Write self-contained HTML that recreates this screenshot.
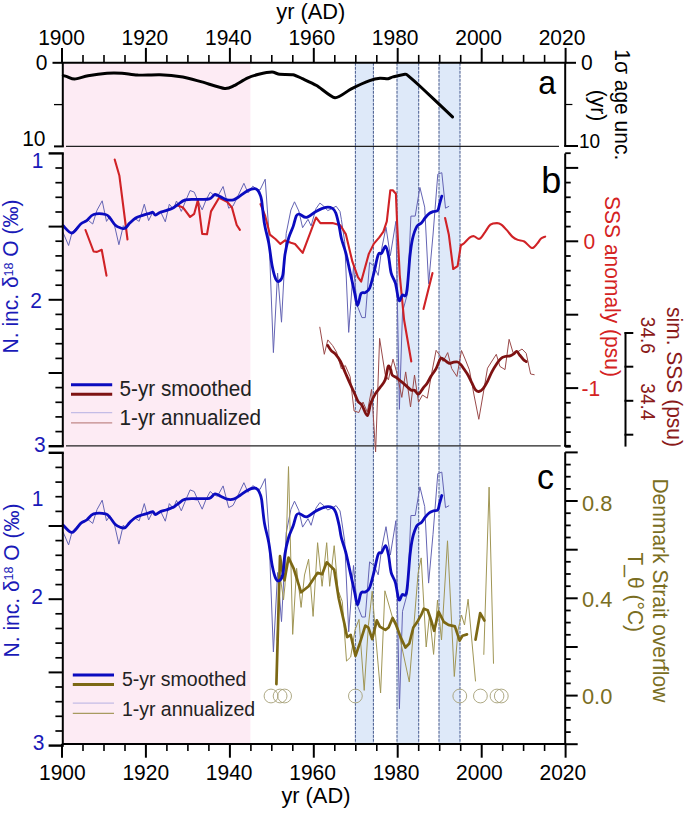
<!DOCTYPE html>
<html><head><meta charset="utf-8"><style>
html,body{margin:0;padding:0;background:#fff;width:685px;height:814px;overflow:hidden;}
text{font-family:"Liberation Sans", sans-serif;}
</style></head><body>
<svg width="685" height="814" viewBox="0 0 685 814" style="display:block">
<rect width="685" height="814" fill="#fff"/>
<rect x="63.8" y="62.8" width="186.6" height="681.2" fill="#fdebf4"/>
<rect x="355.4" y="62.8" width="18.0" height="681.2" fill="#dee9f9"/>
<line x1="355.4" y1="62.8" x2="355.4" y2="744.0" stroke="#4a5e92" stroke-width="1.05" stroke-dasharray="3,1"/>
<line x1="373.4" y1="62.8" x2="373.4" y2="744.0" stroke="#4a5e92" stroke-width="1.05" stroke-dasharray="3,1"/>
<rect x="397.0" y="62.8" width="21.7" height="681.2" fill="#dee9f9"/>
<line x1="397.0" y1="62.8" x2="397.0" y2="744.0" stroke="#4a5e92" stroke-width="1.05" stroke-dasharray="3,1"/>
<line x1="418.7" y1="62.8" x2="418.7" y2="744.0" stroke="#4a5e92" stroke-width="1.05" stroke-dasharray="3,1"/>
<rect x="439.0" y="62.8" width="21.0" height="681.2" fill="#dee9f9"/>
<line x1="439.0" y1="62.8" x2="439.0" y2="744.0" stroke="#4a5e92" stroke-width="1.05" stroke-dasharray="3,1"/>
<line x1="460.0" y1="62.8" x2="460.0" y2="744.0" stroke="#4a5e92" stroke-width="1.05" stroke-dasharray="3,1"/>
<line x1="66" y1="146.4" x2="559" y2="146.4" stroke="#222" stroke-width="1.2"/>
<line x1="66" y1="445.8" x2="560.7" y2="445.8" stroke="#222" stroke-width="1.2"/>
<path d="M63.3,75.6 C63.7,75.7 65.7,76.2 67.0,76.6 C68.3,77.0 72.2,79.2 74.7,79.1 C77.2,79.0 84.2,76.5 88.0,75.8 C91.8,75.1 103.0,73.5 107.0,73.2 C111.0,72.9 118.5,73.0 122.0,73.2 C125.5,73.4 132.9,74.9 137.3,75.1 C141.7,75.3 154.7,74.5 160.0,74.7 C165.3,74.9 177.9,76.2 182.8,77.0 C187.7,77.8 196.9,80.6 201.8,81.9 C206.7,83.2 220.8,88.0 224.6,88.4 C228.4,88.8 231.4,86.9 234.0,85.7 C236.6,84.5 244.4,79.4 247.3,78.1 C250.2,76.8 255.8,75.0 258.7,74.3 C261.6,73.6 269.6,72.1 272.0,72.1 C274.4,72.1 277.2,74.0 279.6,74.3 C282.0,74.6 290.3,74.2 292.9,74.7 C295.5,75.2 299.5,77.3 302.3,78.6 C305.1,79.9 312.8,83.3 316.6,85.5 C320.4,87.7 331.0,97.4 335.0,97.8 C339.0,98.2 347.3,90.8 351.3,88.8 C355.3,86.8 366.4,81.8 369.7,80.6 C373.0,79.4 377.9,78.4 380.0,78.2 C382.1,78.0 386.5,79.0 388.0,78.8 C389.5,78.6 391.0,77.4 393.0,76.9 C395.0,76.4 403.2,74.3 405.0,74.2 C406.8,74.1 406.2,74.2 408.0,75.7 C409.8,77.2 415.6,82.2 420.8,87.0 C426.0,91.8 448.8,113.4 452.5,116.9" fill="none" stroke="#000" stroke-width="3.0" stroke-linejoin="round" stroke-linecap="round"/>
<polyline points="63.1,232.6 68.6,245.5 72.0,232.6 76.0,228.0 81.5,223.1 87.5,219.7 92.7,224.0 97.0,210.2 102.2,200.8 106.5,221.4 109.9,216.3 114.2,224.0 118.9,244.7 123.3,225.7 126.0,228.5 130.0,224.0 134.0,218.0 139.2,221.4 144.3,204.2 148.6,220.6 152.9,212.0 156.0,215.0 160.4,211.4 165.3,221.8 169.3,204.2 173.3,209.0 176.5,201.0 181.3,211.4 186.0,200.0 190.1,190.5 194.2,192.1 198.0,201.0 202.2,209.8 206.0,200.0 210.2,192.1 213.5,195.0 217.4,196.9 223.1,186.5 228.7,208.2 233.0,206.0 237.0,198.0 243.9,183.3 248.0,192.9 252.8,186.2 256.5,189.0 260.0,190.0 265.2,179.2 268.7,228.7 273.4,352.6 277.6,273.1 281.5,322.2 286.2,233.4 290.9,210.0 294.5,201.8 298.8,211.0 302.6,227.7 308.0,219.3 311.1,225.9 315.9,208.8 319.9,203.1 323.8,206.2 327.7,210.6 331.7,208.8 336.1,206.2 340.0,211.5 341.4,219.7 344.7,241.8 348.7,332.4 353.5,266.1 357.0,305.0 361.9,317.6 365.3,317.6 369.6,262.5 373.9,266.0 378.2,275.4 381.7,248.8 386.0,227.3 390.3,255.7 395.9,221.3 399.4,409.4 402.5,312.0 407.5,293.5 410.9,216.1 415.2,216.1 419.9,187.4 424.7,207.1 428.6,283.7 433.0,235.0 437.8,174.2 441.8,172.7 445.5,208.2 448.8,206.4" fill="none" stroke="#6464b4" stroke-width="1.0" stroke-linejoin="round" stroke-linecap="round" />
<polyline points="319.8,327.2 324.3,354.3 327.8,339.9 332.6,345.5 336.5,352.0 341.3,368.7 345.3,365.5 350.1,376.6 354.1,411.0 358.9,412.5 363.0,402.0 367.3,412.0 371.6,389.4 375.6,452.0 379.6,338.4 385.2,374.3 388.4,379.8 393.0,359.1 397.0,373.5 401.8,397.4 405.7,371.9 410.5,407.0 414.5,375.0 418.5,402.2 422.5,395.0 427.3,398.2 432.1,371.1 436.1,350.3 440.1,355.9 443.1,361.4 447.7,352.6 451.7,368.6 456.9,376.5 461.5,350.5 465.5,360.0 469.4,369.9 474.0,395.0 478.8,419.3 483.0,395.0 487.5,368.2 492.0,361.0 496.3,354.3 499.9,366.4 505.0,369.6 509.1,339.3 513.1,352.8 517.5,352.0 522.0,349.0 526.2,353.3 530.6,374.0 534.2,374.7" fill="none" stroke="#9a4a4a" stroke-width="1.0" stroke-linejoin="round" stroke-linecap="round" />
<polyline points="85.5,230.0 93.6,251.5 97.0,251.9 101.7,249.8 106.5,275.6" fill="none" stroke="#d02226" stroke-width="2.1" stroke-linejoin="round" stroke-linecap="round" />
<polyline points="114.7,159.5 119.4,175.8 127.5,239.5" fill="none" stroke="#d02226" stroke-width="2.1" stroke-linejoin="round" stroke-linecap="round" />
<polyline points="177.3,205.3 182.9,207.4 190.1,217.0 194.2,213.8 197.9,200.1 202.2,233.9 207.0,234.2 211.0,211.4 219.1,197.7 227.1,201.8 231.9,207.4 236.7,225.0 239.9,229.9" fill="none" stroke="#d02226" stroke-width="2.1" stroke-linejoin="round" stroke-linecap="round" />
<polyline points="260.5,204.2 265.2,215.9 269.9,234.6 275.7,239.3 280.4,243.9 285.0,240.4 290.9,242.8 295.0,244.0 302.7,252.9 316.0,217.5 320.4,223.1 332.5,223.1 340.3,225.3 345.8,234.1 352.4,261.7 357.9,277.2 361.2,281.6 364.5,269.4 368.8,253.9 373.9,243.6 379.1,237.6 383.4,231.6 386.8,221.3 390.3,190.3 392.8,190.3 395.9,193.8 397.1,223.0 399.7,274.6 404.1,320.0 411.3,361.5" fill="none" stroke="#d02226" stroke-width="2.1" stroke-linejoin="round" stroke-linecap="round" />
<polyline points="423.5,309.0 432.5,273.0" fill="none" stroke="#d02226" stroke-width="2.1" stroke-linejoin="round" stroke-linecap="round" />
<polyline points="445.1,218.0 448.8,234.4 453.2,269.0 457.6,266.2 460.8,245.4" fill="none" stroke="#d02226" stroke-width="2.1" stroke-linejoin="round" stroke-linecap="round" />
<path d="M460.8,245.4 C461.4,245.0 462.6,244.5 464.1,243.2 C465.6,241.9 468.0,238.9 469.6,237.7 C471.2,236.5 472.4,236.0 474.0,236.2 C475.6,236.4 477.6,239.5 479.4,238.8 C481.2,238.2 483.1,234.7 484.9,232.3 C486.7,229.9 488.4,226.1 490.4,224.6 C492.4,223.1 495.2,223.1 497.0,223.1 C498.8,223.1 499.7,223.4 501.3,224.6 C502.9,225.8 505.0,228.1 506.8,230.1 C508.6,232.1 510.5,235.0 512.3,236.6 C514.1,238.2 515.8,239.1 517.8,239.9 C519.8,240.7 521.9,240.2 524.3,241.5 C526.7,242.8 529.8,247.7 532.0,248.0 C534.2,248.3 536.0,244.7 537.5,243.2 C539.0,241.7 539.5,239.9 540.8,238.8 C542.1,237.7 544.4,237.0 545.1,236.6" fill="none" stroke="#d02226" stroke-width="2.1" stroke-linejoin="round" stroke-linecap="round"/>
<path d="M327.8,345.5 C328.3,346.3 329.7,348.8 331.0,350.3 C332.3,351.8 334.1,352.4 335.7,354.3 C337.3,356.2 338.9,358.4 340.5,361.5 C342.1,364.6 343.7,369.0 345.3,372.7 C346.9,376.4 348.5,380.2 350.1,383.8 C351.7,387.4 353.6,391.3 354.9,394.2 C356.2,397.1 356.9,399.5 358.1,401.4 C359.3,403.3 360.6,403.0 362.1,405.4 C363.6,407.8 365.9,416.1 367.3,415.7 C368.8,415.3 369.4,406.7 370.8,403.0 C372.2,399.3 374.0,396.1 375.6,393.4 C377.2,390.7 378.8,389.3 380.4,387.0 C382.0,384.7 383.9,383.2 385.2,379.8 C386.5,376.4 387.3,368.0 388.2,366.3 C389.1,364.6 389.9,368.1 390.6,369.5 C391.3,370.9 391.3,373.7 392.2,375.0 C393.1,376.3 394.7,376.3 396.2,377.4 C397.7,378.5 399.4,380.1 401.0,381.4 C402.6,382.7 404.0,383.9 405.7,385.4 C407.4,386.9 409.8,389.4 411.3,390.2 C412.8,391.0 413.3,389.5 414.5,390.2 C415.7,390.9 417.0,394.6 418.5,394.2 C420.0,393.8 421.8,389.7 423.3,387.8 C424.8,385.9 426.0,385.0 427.3,383.0 C428.6,381.0 429.8,378.2 431.3,375.8 C432.8,373.4 434.6,371.5 436.1,368.7 C437.6,365.9 439.0,360.4 440.3,358.8 C441.6,357.2 442.7,358.9 443.8,359.4 C444.9,359.9 446.1,361.3 447.1,362.0 C448.1,362.7 448.7,363.3 449.7,363.4 C450.7,363.4 451.7,362.5 453.0,362.3 C454.3,362.1 456.3,361.6 457.6,362.0 C458.9,362.4 459.8,363.5 460.9,364.7 C462.0,365.9 463.0,367.6 464.2,369.3 C465.4,371.1 466.8,372.9 468.1,375.2 C469.4,377.5 470.8,380.7 472.0,383.1 C473.2,385.5 474.2,388.2 475.3,389.6 C476.4,391.0 477.5,391.7 478.8,391.5 C480.1,391.3 481.7,390.3 483.1,388.6 C484.6,386.9 486.0,384.1 487.5,381.3 C489.0,378.5 490.4,374.6 491.9,371.8 C493.4,369.0 494.8,366.7 496.3,364.5 C497.8,362.3 499.2,360.0 500.7,358.7 C502.1,357.4 503.4,357.0 505.0,356.5 C506.6,356.0 508.6,356.2 510.1,355.8 C511.6,355.4 512.7,354.6 513.8,353.9 C514.9,353.2 515.7,351.2 516.7,351.4 C517.7,351.6 518.5,353.7 519.6,355.0 C520.7,356.3 522.2,358.3 523.3,359.4 C524.4,360.5 525.7,361.2 526.2,361.6" fill="none" stroke="#7e1212" stroke-width="2.8" stroke-linejoin="round" stroke-linecap="round"/>
<path d="M63.1,225.7 C64.6,226.9 69.1,233.3 72.0,233.0 C74.9,232.7 78.2,226.1 80.7,224.0 C83.2,221.9 84.6,222.2 86.7,220.6 C88.8,219.0 90.4,215.5 93.6,214.5 C96.8,213.5 102.9,213.9 105.6,214.5 C108.3,215.1 108.3,216.3 109.9,218.0 C111.5,219.7 113.4,223.3 115.1,224.9 C116.8,226.5 118.5,227.2 120.2,227.8 C121.9,228.4 123.5,229.1 125.1,228.3 C126.7,227.5 127.9,224.8 129.7,223.1 C131.5,221.4 133.5,219.3 135.7,218.0 C137.8,216.7 140.3,216.2 142.6,215.4 C144.9,214.6 147.8,213.8 149.5,213.3 C151.2,212.8 151.9,212.0 152.9,212.3 C153.9,212.6 154.2,215.1 155.5,215.1 C156.8,215.1 158.6,212.9 160.4,212.2 C162.2,211.4 164.1,211.3 166.1,210.6 C168.1,209.9 170.6,209.1 172.5,208.2 C174.4,207.3 175.2,206.4 177.3,205.0 C179.4,203.6 181.8,200.8 185.3,199.8 C188.8,198.9 194.2,199.5 198.2,199.3 C202.2,199.2 206.6,199.7 209.4,198.9 C212.2,198.1 213.1,194.8 215.0,194.5 C216.9,194.2 218.7,196.0 220.7,196.9 C222.7,197.8 225.0,199.3 227.1,199.8 C229.2,200.3 231.4,200.4 233.5,199.8 C235.6,199.2 237.5,197.7 239.9,196.1 C242.3,194.5 245.6,191.8 248.0,190.5 C250.4,189.2 252.8,188.6 254.4,188.6 C256.1,188.6 257.0,189.5 257.9,190.5 C258.8,191.5 259.4,192.8 260.0,194.5 C260.6,196.2 260.9,195.8 261.7,200.7 C262.4,205.6 263.3,217.1 264.5,224.1 C265.7,231.1 267.4,235.8 268.7,242.8 C270.0,249.8 271.0,260.1 272.2,266.1 C273.4,272.1 274.5,276.5 275.7,279.0 C276.9,281.5 278.0,281.9 279.2,281.3 C280.4,280.7 281.7,280.0 282.7,275.5 C283.7,271.0 284.0,260.6 285.0,254.4 C286.0,248.2 287.2,242.8 288.6,238.1 C290.0,233.4 291.9,230.1 293.2,226.4 C294.5,222.7 295.3,217.9 296.3,215.9 C297.3,213.9 297.7,213.9 299.4,214.2 C301.1,214.4 303.7,217.8 306.5,217.4 C309.3,217.0 312.8,213.2 316.0,211.5 C319.2,209.8 323.1,207.9 325.9,207.4 C328.6,206.9 330.9,207.5 332.5,208.4 C334.1,209.3 334.7,210.1 335.8,213.1 C336.9,216.1 338.3,222.2 339.2,226.4 C340.1,230.6 340.3,234.1 341.4,238.5 C342.5,242.9 344.3,247.2 345.8,252.9 C347.3,258.6 348.7,266.1 350.2,272.7 C351.7,279.3 353.4,287.1 354.6,292.6 C355.8,298.1 356.5,305.4 357.6,305.5 C358.7,305.6 359.7,295.6 361.0,293.5 C362.3,291.4 363.9,293.5 365.3,292.6 C366.7,291.7 368.2,291.6 369.6,288.3 C371.0,285.0 372.5,278.5 373.9,272.9 C375.3,267.3 376.9,258.1 378.2,254.8 C379.5,251.5 380.5,254.5 381.7,253.1 C382.9,251.7 384.5,245.8 385.6,246.2 C386.7,246.6 387.6,251.2 388.5,255.7 C389.4,260.1 390.0,268.3 391.1,272.9 C392.2,277.5 394.1,278.6 395.4,283.2 C396.7,287.8 397.8,298.4 398.9,300.4 C400.0,302.4 401.0,296.5 402.3,295.2 C403.6,293.9 405.3,299.2 406.6,292.6 C407.9,286.0 409.0,264.7 410.0,255.7 C411.0,246.7 411.5,243.4 412.6,238.5 C413.8,233.6 415.4,229.0 416.9,226.4 C418.4,223.8 420.0,224.5 421.4,223.1 C422.8,221.7 423.7,219.6 425.0,218.0 C426.3,216.4 427.7,214.7 429.1,213.6 C430.5,212.5 432.1,212.0 433.5,211.5 C434.9,211.0 436.8,211.7 437.8,210.4 C438.8,209.1 438.9,206.2 439.6,203.8 C440.3,201.4 441.4,197.4 441.8,196.1" fill="none" stroke="#0b0bbf" stroke-width="2.8" stroke-linejoin="round" stroke-linecap="round"/>
<polyline points="63.1,532.0 68.6,544.9 72.0,532.0 76.0,527.4 81.5,522.5 87.5,519.1 92.7,523.4 97.0,509.6 102.2,500.2 106.5,520.8 109.9,515.7 114.2,523.4 118.9,544.1 123.3,525.1 126.0,527.9 130.0,523.4 134.0,517.4 139.2,520.8 144.3,503.6 148.6,520.0 152.9,511.4 156.0,514.4 160.4,510.8 165.3,521.2 169.3,503.6 173.3,508.4 176.5,500.4 181.3,510.8 186.0,499.4 190.1,489.9 194.2,491.5 198.0,500.4 202.2,509.2 206.0,499.4 210.2,491.5 213.5,494.4 217.4,496.3 223.1,485.9 228.7,507.6 233.0,505.4 237.0,497.4 243.9,482.7 248.0,492.3 252.8,485.6 256.5,488.4 260.0,489.4 265.2,478.6 268.7,528.1 273.4,652.0 277.6,572.5 281.5,621.6 286.2,532.8 290.9,509.4 294.5,501.2 298.8,510.4 302.6,527.1 308.0,518.7 311.1,525.3 315.9,508.2 319.9,502.5 323.8,505.6 327.7,510.0 331.7,508.2 336.1,505.6 340.0,510.9 341.4,519.1 344.7,541.2 348.7,631.8 353.5,565.5 357.0,604.4 361.9,617.0 365.3,617.0 369.6,561.9 373.9,565.4 378.2,574.8 381.7,548.2 386.0,526.7 390.3,555.1 395.9,520.7 399.4,708.8 402.5,611.4 407.5,592.9 410.9,515.5 415.2,515.5 419.9,486.8 424.7,506.5 428.6,583.1 433.0,534.4 437.8,473.6 441.8,472.1 445.5,507.6 448.8,505.8" fill="none" stroke="#6464b4" stroke-width="1.0" stroke-linejoin="round" stroke-linecap="round" />
<polyline points="277.0,640.0 280.0,575.0 283.5,600.0 285.0,585.0 288.5,466.6 292.7,634.4 296.6,568.3 301.1,607.4 304.5,575.0 308.6,559.2 313.1,616.4 317.6,542.7 322.1,586.3 326.7,542.7 329.7,586.3 334.2,545.7 338.0,590.0 342.3,601.6 346.5,661.1 350.7,657.0 355.0,630.0 359.0,619.4 364.2,690.4 368.4,625.6 372.2,591.2 376.0,640.0 380.6,693.0 384.9,590.8 392.6,618.0 396.6,622.7 409.3,682.0 418.1,573.2 421.2,557.9 426.2,647.0 429.5,615.0 433.6,654.4 437.5,600.0 441.5,640.0 447.5,540.8 454.3,676.5 458.0,630.0 461.5,615.0 464.5,625.0 468.1,599.2 475.5,681.0" fill="none" stroke="#a09655" stroke-width="1.0" stroke-linejoin="round" stroke-linecap="round" />
<polyline points="483.8,654.4 489.1,487.1 493.5,663.3" fill="none" stroke="#a09655" stroke-width="1.0" stroke-linejoin="round" stroke-linecap="round" />
<polyline points="276.4,684.1 280.0,556.2 282.4,571.3 284.5,580.3 288.5,557.7 293.6,568.3 301.1,592.3 308.6,586.3 317.6,572.8 322.1,574.3 326.7,562.3 334.2,569.8 338.7,598.3 344.4,623.6 347.1,637.1 350.7,635.0 355.5,655.9 360.1,642.4 365.3,625.6 368.4,627.7 372.2,639.2 376.8,620.4 379.8,626.7 385.4,629.9 388.6,627.5 392.6,617.9 395.8,624.3 400.6,637.1 405.4,647.5 409.3,643.5 413.3,627.5 417.3,621.9 421.3,614.7 423.8,608.7 427.7,610.2 431.2,620.5 434.2,630.8 438.6,611.6 443.9,622.0 448.4,624.9 454.9,626.4 459.6,640.6 462.5,635.8 467.0,634.4" fill="none" stroke="#7c6814" stroke-width="2.7" stroke-linejoin="round" stroke-linecap="round" />
<polyline points="475.5,639.7 480.2,613.1 484.4,620.5" fill="none" stroke="#7c6814" stroke-width="2.7" stroke-linejoin="round" stroke-linecap="round" />
<path d="M63.1,525.1 C64.6,526.3 69.1,532.7 72.0,532.4 C74.9,532.1 78.2,525.5 80.7,523.4 C83.2,521.3 84.6,521.6 86.7,520.0 C88.8,518.4 90.4,514.9 93.6,513.9 C96.8,512.9 102.9,513.3 105.6,513.9 C108.3,514.5 108.3,515.7 109.9,517.4 C111.5,519.1 113.4,522.7 115.1,524.3 C116.8,525.9 118.5,526.6 120.2,527.2 C121.9,527.8 123.5,528.5 125.1,527.7 C126.7,526.9 127.9,524.2 129.7,522.5 C131.5,520.8 133.5,518.7 135.7,517.4 C137.8,516.1 140.3,515.6 142.6,514.8 C144.9,514.0 147.8,513.2 149.5,512.7 C151.2,512.2 151.9,511.4 152.9,511.7 C153.9,512.0 154.2,514.5 155.5,514.5 C156.8,514.5 158.6,512.3 160.4,511.6 C162.2,510.8 164.1,510.7 166.1,510.0 C168.1,509.3 170.6,508.5 172.5,507.6 C174.4,506.7 175.2,505.8 177.3,504.4 C179.4,503.0 181.8,500.1 185.3,499.2 C188.8,498.2 194.2,498.9 198.2,498.7 C202.2,498.5 206.6,499.1 209.4,498.3 C212.2,497.5 213.1,494.2 215.0,493.9 C216.9,493.6 218.7,495.4 220.7,496.3 C222.7,497.2 225.0,498.7 227.1,499.2 C229.2,499.7 231.4,499.8 233.5,499.2 C235.6,498.6 237.5,497.1 239.9,495.5 C242.3,493.9 245.6,491.1 248.0,489.9 C250.4,488.6 252.8,488.0 254.4,488.0 C256.1,488.0 257.0,488.9 257.9,489.9 C258.8,490.9 259.4,492.2 260.0,493.9 C260.6,495.6 260.9,495.2 261.7,500.1 C262.4,505.0 263.3,516.5 264.5,523.5 C265.7,530.5 267.4,535.2 268.7,542.2 C270.0,549.2 271.0,559.5 272.2,565.5 C273.4,571.5 274.5,575.9 275.7,578.4 C276.9,580.9 278.0,581.3 279.2,580.7 C280.4,580.1 281.7,579.4 282.7,574.9 C283.7,570.4 284.0,560.0 285.0,553.8 C286.0,547.6 287.2,542.2 288.6,537.5 C290.0,532.8 291.9,529.5 293.2,525.8 C294.5,522.1 295.3,517.3 296.3,515.3 C297.3,513.3 297.7,513.3 299.4,513.6 C301.1,513.8 303.7,517.2 306.5,516.8 C309.3,516.3 312.8,512.6 316.0,510.9 C319.2,509.2 323.1,507.3 325.9,506.8 C328.6,506.3 330.9,506.8 332.5,507.8 C334.1,508.7 334.7,509.5 335.8,512.5 C336.9,515.5 338.3,521.6 339.2,525.8 C340.1,530.0 340.3,533.5 341.4,537.9 C342.5,542.3 344.3,546.6 345.8,552.3 C347.3,558.0 348.7,565.5 350.2,572.1 C351.7,578.7 353.4,586.5 354.6,592.0 C355.8,597.5 356.5,604.8 357.6,604.9 C358.7,605.0 359.7,595.0 361.0,592.9 C362.3,590.8 363.9,592.9 365.3,592.0 C366.7,591.1 368.2,591.0 369.6,587.7 C371.0,584.4 372.5,577.9 373.9,572.3 C375.3,566.7 376.9,557.5 378.2,554.2 C379.5,550.9 380.5,553.9 381.7,552.5 C382.9,551.1 384.5,545.2 385.6,545.6 C386.7,546.0 387.6,550.6 388.5,555.1 C389.4,559.5 390.0,567.7 391.1,572.3 C392.2,576.9 394.1,578.0 395.4,582.6 C396.7,587.2 397.8,597.8 398.9,599.8 C400.0,601.8 401.0,595.9 402.3,594.6 C403.6,593.3 405.3,598.6 406.6,592.0 C407.9,585.4 409.0,564.1 410.0,555.1 C411.0,546.1 411.5,542.8 412.6,537.9 C413.8,533.0 415.4,528.4 416.9,525.8 C418.4,523.2 420.0,523.9 421.4,522.5 C422.8,521.1 423.7,519.0 425.0,517.4 C426.3,515.8 427.7,514.1 429.1,513.0 C430.5,511.9 432.1,511.4 433.5,510.9 C434.9,510.4 436.8,511.1 437.8,509.8 C438.8,508.5 438.9,505.6 439.6,503.2 C440.3,500.8 441.4,496.8 441.8,495.5" fill="none" stroke="#0b0bbf" stroke-width="2.8" stroke-linejoin="round" stroke-linecap="round"/>
<circle cx="271.0" cy="696.0" r="6.9" fill="none" stroke="#a6a078" stroke-width="0.9"/>
<circle cx="280.1" cy="696.0" r="6.9" fill="none" stroke="#a6a078" stroke-width="0.9"/>
<circle cx="284.6" cy="696.0" r="6.9" fill="none" stroke="#a6a078" stroke-width="0.9"/>
<circle cx="355.4" cy="696.0" r="6.9" fill="none" stroke="#a6a078" stroke-width="0.9"/>
<circle cx="459.8" cy="696.0" r="6.9" fill="none" stroke="#a6a078" stroke-width="0.9"/>
<circle cx="480.4" cy="696.0" r="6.9" fill="none" stroke="#a6a078" stroke-width="0.9"/>
<circle cx="497.0" cy="696.0" r="6.9" fill="none" stroke="#a6a078" stroke-width="0.9"/>
<circle cx="501.3" cy="696.0" r="6.9" fill="none" stroke="#a6a078" stroke-width="0.9"/>
<line x1="61.8" y1="62.8" x2="566.2" y2="62.8" stroke="#000" stroke-width="2"/>
<line x1="62.0" y1="62.8" x2="62.0" y2="47.9" stroke="#000" stroke-width="2"/>
<line x1="83.0" y1="62.8" x2="83.0" y2="54.9" stroke="#000" stroke-width="1.6"/>
<line x1="104.0" y1="62.8" x2="104.0" y2="54.9" stroke="#000" stroke-width="1.6"/>
<line x1="125.0" y1="62.8" x2="125.0" y2="54.9" stroke="#000" stroke-width="1.6"/>
<line x1="145.9" y1="62.8" x2="145.9" y2="47.9" stroke="#000" stroke-width="2"/>
<line x1="166.9" y1="62.8" x2="166.9" y2="54.9" stroke="#000" stroke-width="1.6"/>
<line x1="187.9" y1="62.8" x2="187.9" y2="54.9" stroke="#000" stroke-width="1.6"/>
<line x1="208.9" y1="62.8" x2="208.9" y2="54.9" stroke="#000" stroke-width="1.6"/>
<line x1="229.9" y1="62.8" x2="229.9" y2="47.9" stroke="#000" stroke-width="2"/>
<line x1="250.9" y1="62.8" x2="250.9" y2="54.9" stroke="#000" stroke-width="1.6"/>
<line x1="271.8" y1="62.8" x2="271.8" y2="54.9" stroke="#000" stroke-width="1.6"/>
<line x1="292.8" y1="62.8" x2="292.8" y2="54.9" stroke="#000" stroke-width="1.6"/>
<line x1="313.8" y1="62.8" x2="313.8" y2="47.9" stroke="#000" stroke-width="2"/>
<line x1="334.8" y1="62.8" x2="334.8" y2="54.9" stroke="#000" stroke-width="1.6"/>
<line x1="355.8" y1="62.8" x2="355.8" y2="54.9" stroke="#000" stroke-width="1.6"/>
<line x1="376.8" y1="62.8" x2="376.8" y2="54.9" stroke="#000" stroke-width="1.6"/>
<line x1="397.7" y1="62.8" x2="397.7" y2="47.9" stroke="#000" stroke-width="2"/>
<line x1="418.7" y1="62.8" x2="418.7" y2="54.9" stroke="#000" stroke-width="1.6"/>
<line x1="439.7" y1="62.8" x2="439.7" y2="54.9" stroke="#000" stroke-width="1.6"/>
<line x1="460.7" y1="62.8" x2="460.7" y2="54.9" stroke="#000" stroke-width="1.6"/>
<line x1="481.7" y1="62.8" x2="481.7" y2="47.9" stroke="#000" stroke-width="2"/>
<line x1="502.7" y1="62.8" x2="502.7" y2="54.9" stroke="#000" stroke-width="1.6"/>
<line x1="523.6" y1="62.8" x2="523.6" y2="54.9" stroke="#000" stroke-width="1.6"/>
<line x1="544.6" y1="62.8" x2="544.6" y2="54.9" stroke="#000" stroke-width="1.6"/>
<line x1="565.6" y1="62.8" x2="565.6" y2="47.9" stroke="#000" stroke-width="2"/>
<line x1="61.8" y1="744.0" x2="566.2" y2="744.0" stroke="#000" stroke-width="2"/>
<line x1="62.0" y1="744.0" x2="62.0" y2="757.7" stroke="#000" stroke-width="2"/>
<line x1="83.0" y1="744.0" x2="83.0" y2="751.0" stroke="#000" stroke-width="1.6"/>
<line x1="104.0" y1="744.0" x2="104.0" y2="751.0" stroke="#000" stroke-width="1.6"/>
<line x1="125.0" y1="744.0" x2="125.0" y2="751.0" stroke="#000" stroke-width="1.6"/>
<line x1="145.9" y1="744.0" x2="145.9" y2="757.7" stroke="#000" stroke-width="2"/>
<line x1="166.9" y1="744.0" x2="166.9" y2="751.0" stroke="#000" stroke-width="1.6"/>
<line x1="187.9" y1="744.0" x2="187.9" y2="751.0" stroke="#000" stroke-width="1.6"/>
<line x1="208.9" y1="744.0" x2="208.9" y2="751.0" stroke="#000" stroke-width="1.6"/>
<line x1="229.9" y1="744.0" x2="229.9" y2="757.7" stroke="#000" stroke-width="2"/>
<line x1="250.9" y1="744.0" x2="250.9" y2="751.0" stroke="#000" stroke-width="1.6"/>
<line x1="271.8" y1="744.0" x2="271.8" y2="751.0" stroke="#000" stroke-width="1.6"/>
<line x1="292.8" y1="744.0" x2="292.8" y2="751.0" stroke="#000" stroke-width="1.6"/>
<line x1="313.8" y1="744.0" x2="313.8" y2="757.7" stroke="#000" stroke-width="2"/>
<line x1="334.8" y1="744.0" x2="334.8" y2="751.0" stroke="#000" stroke-width="1.6"/>
<line x1="355.8" y1="744.0" x2="355.8" y2="751.0" stroke="#000" stroke-width="1.6"/>
<line x1="376.8" y1="744.0" x2="376.8" y2="751.0" stroke="#000" stroke-width="1.6"/>
<line x1="397.7" y1="744.0" x2="397.7" y2="757.7" stroke="#000" stroke-width="2"/>
<line x1="418.7" y1="744.0" x2="418.7" y2="751.0" stroke="#000" stroke-width="1.6"/>
<line x1="439.7" y1="744.0" x2="439.7" y2="751.0" stroke="#000" stroke-width="1.6"/>
<line x1="460.7" y1="744.0" x2="460.7" y2="751.0" stroke="#000" stroke-width="1.6"/>
<line x1="481.7" y1="744.0" x2="481.7" y2="757.7" stroke="#000" stroke-width="2"/>
<line x1="502.7" y1="744.0" x2="502.7" y2="751.0" stroke="#000" stroke-width="1.6"/>
<line x1="523.6" y1="744.0" x2="523.6" y2="751.0" stroke="#000" stroke-width="1.6"/>
<line x1="544.6" y1="744.0" x2="544.6" y2="751.0" stroke="#000" stroke-width="1.6"/>
<line x1="565.6" y1="744.0" x2="565.6" y2="757.7" stroke="#000" stroke-width="2"/>
<line x1="62.8" y1="62.8" x2="62.8" y2="146.6" stroke="#000" stroke-width="2"/>
<line x1="62.8" y1="62.8" x2="52.5" y2="62.8" stroke="#000" stroke-width="2"/>
<line x1="62.8" y1="104.6" x2="54.0" y2="104.6" stroke="#000" stroke-width="1.3"/>
<line x1="63.8" y1="146.4" x2="54.0" y2="146.4" stroke="#000" stroke-width="2"/>
<line x1="565.2" y1="62.8" x2="565.2" y2="146.4" stroke="#000" stroke-width="2"/>
<line x1="565.2" y1="62.8" x2="576.0" y2="62.8" stroke="#000" stroke-width="2"/>
<line x1="565.2" y1="104.5" x2="572.4" y2="104.5" stroke="#000" stroke-width="1.2"/>
<line x1="564.2" y1="146.0" x2="578.0" y2="146.0" stroke="#000" stroke-width="2"/>
<line x1="62.8" y1="153.4" x2="62.8" y2="446.2" stroke="#000" stroke-width="2"/>
<line x1="63.8" y1="153.4" x2="48.6" y2="153.4" stroke="#000" stroke-width="2.4"/>
<line x1="62.8" y1="168.0" x2="55.4" y2="168.0" stroke="#000" stroke-width="1.7"/>
<line x1="62.8" y1="182.7" x2="55.4" y2="182.7" stroke="#000" stroke-width="1.7"/>
<line x1="62.8" y1="197.3" x2="55.4" y2="197.3" stroke="#000" stroke-width="1.7"/>
<line x1="62.8" y1="212.0" x2="55.4" y2="212.0" stroke="#000" stroke-width="1.7"/>
<line x1="62.8" y1="226.6" x2="48.6" y2="226.6" stroke="#000" stroke-width="2"/>
<line x1="62.8" y1="241.2" x2="55.4" y2="241.2" stroke="#000" stroke-width="1.7"/>
<line x1="62.8" y1="255.9" x2="55.4" y2="255.9" stroke="#000" stroke-width="1.7"/>
<line x1="62.8" y1="270.5" x2="55.4" y2="270.5" stroke="#000" stroke-width="1.7"/>
<line x1="62.8" y1="285.2" x2="55.4" y2="285.2" stroke="#000" stroke-width="1.7"/>
<line x1="62.8" y1="299.8" x2="48.6" y2="299.8" stroke="#000" stroke-width="2"/>
<line x1="62.8" y1="314.4" x2="55.4" y2="314.4" stroke="#000" stroke-width="1.7"/>
<line x1="62.8" y1="329.1" x2="55.4" y2="329.1" stroke="#000" stroke-width="1.7"/>
<line x1="62.8" y1="343.7" x2="55.4" y2="343.7" stroke="#000" stroke-width="1.7"/>
<line x1="62.8" y1="358.4" x2="55.4" y2="358.4" stroke="#000" stroke-width="1.7"/>
<line x1="62.8" y1="373.0" x2="48.6" y2="373.0" stroke="#000" stroke-width="2"/>
<line x1="62.8" y1="387.6" x2="55.4" y2="387.6" stroke="#000" stroke-width="1.7"/>
<line x1="62.8" y1="402.3" x2="55.4" y2="402.3" stroke="#000" stroke-width="1.7"/>
<line x1="62.8" y1="416.9" x2="55.4" y2="416.9" stroke="#000" stroke-width="1.7"/>
<line x1="62.8" y1="431.6" x2="55.4" y2="431.6" stroke="#000" stroke-width="1.7"/>
<line x1="63.8" y1="446.2" x2="48.6" y2="446.2" stroke="#000" stroke-width="2.4"/>
<line x1="565.2" y1="153.4" x2="565.2" y2="446.2" stroke="#000" stroke-width="2"/>
<line x1="565.2" y1="153.2" x2="570.7" y2="153.2" stroke="#000" stroke-width="1.8"/>
<line x1="565.2" y1="167.9" x2="578.2" y2="167.9" stroke="#000" stroke-width="2"/>
<line x1="565.2" y1="182.6" x2="570.7" y2="182.6" stroke="#000" stroke-width="1.8"/>
<line x1="565.2" y1="197.3" x2="570.7" y2="197.3" stroke="#000" stroke-width="1.8"/>
<line x1="565.2" y1="211.9" x2="570.7" y2="211.9" stroke="#000" stroke-width="1.8"/>
<line x1="565.2" y1="226.6" x2="570.7" y2="226.6" stroke="#000" stroke-width="1.8"/>
<line x1="565.2" y1="241.3" x2="578.2" y2="241.3" stroke="#000" stroke-width="2"/>
<line x1="565.2" y1="256.0" x2="570.7" y2="256.0" stroke="#000" stroke-width="1.8"/>
<line x1="565.2" y1="270.7" x2="570.7" y2="270.7" stroke="#000" stroke-width="1.8"/>
<line x1="565.2" y1="285.3" x2="570.7" y2="285.3" stroke="#000" stroke-width="1.8"/>
<line x1="565.2" y1="300.0" x2="570.7" y2="300.0" stroke="#000" stroke-width="1.8"/>
<line x1="565.2" y1="314.7" x2="578.2" y2="314.7" stroke="#000" stroke-width="2"/>
<line x1="565.2" y1="329.4" x2="570.7" y2="329.4" stroke="#000" stroke-width="1.8"/>
<line x1="565.2" y1="344.1" x2="570.7" y2="344.1" stroke="#000" stroke-width="1.8"/>
<line x1="565.2" y1="358.7" x2="570.7" y2="358.7" stroke="#000" stroke-width="1.8"/>
<line x1="565.2" y1="373.4" x2="570.7" y2="373.4" stroke="#000" stroke-width="1.8"/>
<line x1="565.2" y1="388.1" x2="578.2" y2="388.1" stroke="#000" stroke-width="2"/>
<line x1="565.2" y1="402.8" x2="570.7" y2="402.8" stroke="#000" stroke-width="1.8"/>
<line x1="565.2" y1="417.5" x2="570.7" y2="417.5" stroke="#000" stroke-width="1.8"/>
<line x1="565.2" y1="432.1" x2="570.7" y2="432.1" stroke="#000" stroke-width="1.8"/>
<line x1="565.2" y1="446.8" x2="570.7" y2="446.8" stroke="#000" stroke-width="1.8"/>
<line x1="564.2" y1="445.9" x2="570.7" y2="445.9" stroke="#000" stroke-width="2"/>
<line x1="625.5" y1="332.2" x2="625.5" y2="446.6" stroke="#000" stroke-width="2"/>
<line x1="624.5" y1="333.0" x2="633.3" y2="333.0" stroke="#000" stroke-width="2"/>
<line x1="624.5" y1="366.7" x2="633.3" y2="366.7" stroke="#000" stroke-width="2"/>
<line x1="624.5" y1="400.8" x2="633.3" y2="400.8" stroke="#000" stroke-width="2"/>
<line x1="624.5" y1="434.7" x2="633.3" y2="434.7" stroke="#000" stroke-width="2"/>
<line x1="62.8" y1="452.8" x2="62.8" y2="744.0" stroke="#000" stroke-width="2"/>
<line x1="63.8" y1="452.8" x2="48.6" y2="452.8" stroke="#000" stroke-width="2.4"/>
<line x1="62.8" y1="467.4" x2="55.4" y2="467.4" stroke="#000" stroke-width="1.7"/>
<line x1="62.8" y1="482.1" x2="55.4" y2="482.1" stroke="#000" stroke-width="1.7"/>
<line x1="62.8" y1="496.7" x2="55.4" y2="496.7" stroke="#000" stroke-width="1.7"/>
<line x1="62.8" y1="511.4" x2="55.4" y2="511.4" stroke="#000" stroke-width="1.7"/>
<line x1="62.8" y1="526.0" x2="48.6" y2="526.0" stroke="#000" stroke-width="2"/>
<line x1="62.8" y1="540.6" x2="55.4" y2="540.6" stroke="#000" stroke-width="1.7"/>
<line x1="62.8" y1="555.3" x2="55.4" y2="555.3" stroke="#000" stroke-width="1.7"/>
<line x1="62.8" y1="569.9" x2="55.4" y2="569.9" stroke="#000" stroke-width="1.7"/>
<line x1="62.8" y1="584.6" x2="55.4" y2="584.6" stroke="#000" stroke-width="1.7"/>
<line x1="62.8" y1="599.2" x2="48.6" y2="599.2" stroke="#000" stroke-width="2"/>
<line x1="62.8" y1="613.8" x2="55.4" y2="613.8" stroke="#000" stroke-width="1.7"/>
<line x1="62.8" y1="628.5" x2="55.4" y2="628.5" stroke="#000" stroke-width="1.7"/>
<line x1="62.8" y1="643.1" x2="55.4" y2="643.1" stroke="#000" stroke-width="1.7"/>
<line x1="62.8" y1="657.8" x2="55.4" y2="657.8" stroke="#000" stroke-width="1.7"/>
<line x1="62.8" y1="672.4" x2="48.6" y2="672.4" stroke="#000" stroke-width="2"/>
<line x1="62.8" y1="687.0" x2="55.4" y2="687.0" stroke="#000" stroke-width="1.7"/>
<line x1="62.8" y1="701.7" x2="55.4" y2="701.7" stroke="#000" stroke-width="1.7"/>
<line x1="62.8" y1="716.3" x2="55.4" y2="716.3" stroke="#000" stroke-width="1.7"/>
<line x1="62.8" y1="731.0" x2="55.4" y2="731.0" stroke="#000" stroke-width="1.7"/>
<line x1="63.8" y1="745.6" x2="48.6" y2="745.6" stroke="#000" stroke-width="2.4"/>
<line x1="565.2" y1="452.3" x2="565.2" y2="744.0" stroke="#000" stroke-width="2"/>
<line x1="565.2" y1="744.2" x2="577.7" y2="744.2" stroke="#000" stroke-width="2"/>
<line x1="565.2" y1="732.1" x2="570.7" y2="732.1" stroke="#000" stroke-width="1.8"/>
<line x1="565.2" y1="719.9" x2="570.7" y2="719.9" stroke="#000" stroke-width="1.8"/>
<line x1="565.2" y1="707.8" x2="570.7" y2="707.8" stroke="#000" stroke-width="1.8"/>
<line x1="565.2" y1="695.6" x2="577.7" y2="695.6" stroke="#000" stroke-width="2"/>
<line x1="565.2" y1="683.4" x2="570.7" y2="683.4" stroke="#000" stroke-width="1.8"/>
<line x1="565.2" y1="671.3" x2="570.7" y2="671.3" stroke="#000" stroke-width="1.8"/>
<line x1="565.2" y1="659.1" x2="570.7" y2="659.1" stroke="#000" stroke-width="1.8"/>
<line x1="565.2" y1="647.0" x2="577.7" y2="647.0" stroke="#000" stroke-width="2"/>
<line x1="565.2" y1="634.8" x2="570.7" y2="634.8" stroke="#000" stroke-width="1.8"/>
<line x1="565.2" y1="622.6" x2="570.7" y2="622.6" stroke="#000" stroke-width="1.8"/>
<line x1="565.2" y1="610.5" x2="570.7" y2="610.5" stroke="#000" stroke-width="1.8"/>
<line x1="565.2" y1="598.3" x2="577.7" y2="598.3" stroke="#000" stroke-width="2"/>
<line x1="565.2" y1="586.2" x2="570.7" y2="586.2" stroke="#000" stroke-width="1.8"/>
<line x1="565.2" y1="574.0" x2="570.7" y2="574.0" stroke="#000" stroke-width="1.8"/>
<line x1="565.2" y1="561.8" x2="570.7" y2="561.8" stroke="#000" stroke-width="1.8"/>
<line x1="565.2" y1="549.7" x2="577.7" y2="549.7" stroke="#000" stroke-width="2"/>
<line x1="565.2" y1="537.5" x2="570.7" y2="537.5" stroke="#000" stroke-width="1.8"/>
<line x1="565.2" y1="525.4" x2="570.7" y2="525.4" stroke="#000" stroke-width="1.8"/>
<line x1="565.2" y1="513.2" x2="570.7" y2="513.2" stroke="#000" stroke-width="1.8"/>
<line x1="565.2" y1="501.0" x2="577.7" y2="501.0" stroke="#000" stroke-width="2"/>
<line x1="565.2" y1="488.9" x2="570.7" y2="488.9" stroke="#000" stroke-width="1.8"/>
<line x1="565.2" y1="476.7" x2="570.7" y2="476.7" stroke="#000" stroke-width="1.8"/>
<line x1="565.2" y1="464.6" x2="570.7" y2="464.6" stroke="#000" stroke-width="1.8"/>
<line x1="565.2" y1="452.4" x2="577.7" y2="452.4" stroke="#000" stroke-width="2"/>
<g font-family='"Liberation Sans", sans-serif'>
<text transform="translate(310.8 18.9) scale(1 1.04)" font-size="21.8" fill="#000" text-anchor="middle" >yr (AD)</text>
<text transform="translate(315.9 802.8) scale(1 1.04)" font-size="21.8" fill="#000" text-anchor="middle" >yr (AD)</text>
<text transform="translate(61.5 44.6) scale(1 1.04)" font-size="21" fill="#000" text-anchor="middle" >1900</text>
<text transform="translate(62.3 780.0) scale(1 1.04)" font-size="21" fill="#000" text-anchor="middle" >1900</text>
<text transform="translate(144.92000000000002 44.6) scale(1 1.04)" font-size="21" fill="#000" text-anchor="middle" >1920</text>
<text transform="translate(145.72000000000003 780.0) scale(1 1.04)" font-size="21" fill="#000" text-anchor="middle" >1920</text>
<text transform="translate(228.34 44.6) scale(1 1.04)" font-size="21" fill="#000" text-anchor="middle" >1940</text>
<text transform="translate(229.14000000000001 780.0) scale(1 1.04)" font-size="21" fill="#000" text-anchor="middle" >1940</text>
<text transform="translate(311.76 44.6) scale(1 1.04)" font-size="21" fill="#000" text-anchor="middle" >1960</text>
<text transform="translate(312.56 780.0) scale(1 1.04)" font-size="21" fill="#000" text-anchor="middle" >1960</text>
<text transform="translate(395.18 44.6) scale(1 1.04)" font-size="21" fill="#000" text-anchor="middle" >1980</text>
<text transform="translate(395.98 780.0) scale(1 1.04)" font-size="21" fill="#000" text-anchor="middle" >1980</text>
<text transform="translate(478.6 44.6) scale(1 1.04)" font-size="21" fill="#000" text-anchor="middle" >2000</text>
<text transform="translate(479.40000000000003 780.0) scale(1 1.04)" font-size="21" fill="#000" text-anchor="middle" >2000</text>
<text transform="translate(562.02 44.6) scale(1 1.04)" font-size="21" fill="#000" text-anchor="middle" >2020</text>
<text transform="translate(562.8199999999999 780.0) scale(1 1.04)" font-size="21" fill="#000" text-anchor="middle" >2020</text>
<text transform="translate(47.5 70.2) scale(1 1.04)" font-size="21" fill="#000" text-anchor="end" >0</text>
<text transform="translate(45.5 146.0) scale(1 1.04)" font-size="21" fill="#000" text-anchor="end" >10</text>
<text transform="translate(581 70.2) scale(1 1.04)" font-size="21" fill="#000" text-anchor="start" >0</text>
<text transform="translate(579 147.8) scale(1 1.04)" font-size="19" fill="#000" text-anchor="start" >10</text>
<text transform="translate(547.2 93.5) scale(1 1.04)" font-size="32" fill="#000" text-anchor="middle" >a</text>
<text transform="translate(614.5 104.8) rotate(90) scale(1 1.04)" font-size="21" fill="#000" text-anchor="middle" >1σ age unc.</text>
<text transform="translate(590.6 105.4) rotate(90) scale(1 1.04)" font-size="21" fill="#000" text-anchor="middle" >(yr)</text>
<text transform="translate(43.3 168.2) scale(1 1.04)" font-size="21" fill="#1a1ab8" text-anchor="end" >1</text>
<text transform="translate(41.8 308.0) scale(1 1.04)" font-size="21" fill="#1a1ab8" text-anchor="end" >2</text>
<text transform="translate(45.7 452.4) scale(1 1.04)" font-size="21" fill="#1a1ab8" text-anchor="end" >3</text>
<text transform="translate(551.2 193.2) scale(1 1.04)" font-size="36" fill="#000" text-anchor="middle" >b</text>
<text transform="translate(18.3 276.5) rotate(-90) scale(1 1.04)" font-size="21" fill="#1a1ab8" text-anchor="middle" ><tspan>N. inc. δ</tspan><tspan font-size="12.5" dy="-5.5">18</tspan><tspan dy="5.5"> O (‰)</tspan></text>
<text transform="translate(18.8 580.5) rotate(-90) scale(1 1.04)" font-size="21" fill="#1a1ab8" text-anchor="middle" ><tspan>N. inc. δ</tspan><tspan font-size="12.5" dy="-5.5">18</tspan><tspan dy="5.5"> O (‰)</tspan></text>
<text transform="translate(583.5 249.1) scale(1 1.04)" font-size="21" fill="#d42222" text-anchor="start" >0</text>
<text transform="translate(581.5 396.0) scale(1 1.04)" font-size="21" fill="#d42222" text-anchor="start" >-1</text>
<text transform="translate(605.3 286.5) rotate(90) scale(1 1.04)" font-size="21" fill="#d42222" text-anchor="middle" >SSS anomaly (psu)</text>
<text transform="translate(641.2 335.3) rotate(90) scale(1 1.04)" font-size="19" fill="#8a1a1a" text-anchor="middle" >34.6</text>
<text transform="translate(641.2 401.8) rotate(90) scale(1 1.04)" font-size="19" fill="#8a1a1a" text-anchor="middle" >34.4</text>
<text transform="translate(667 377) rotate(90) scale(1 1.04)" font-size="21" fill="#8a1a1a" text-anchor="middle" >sim. SSS (psu)</text>
<line x1="71.0" y1="384.8" x2="112.2" y2="384.8" stroke="#0b0bbf" stroke-width="3"/>
<line x1="71.0" y1="394.2" x2="112.2" y2="394.2" stroke="#7e1212" stroke-width="3"/>
<line x1="71.0" y1="412.6" x2="112.2" y2="412.6" stroke="#c4bce6" stroke-width="1.2"/>
<line x1="71.0" y1="422.9" x2="112.2" y2="422.9" stroke="#c08888" stroke-width="1.2"/>
<text transform="translate(119.6 396.3) scale(1 1.04)" font-size="20.7" fill="#222" text-anchor="start" >5-yr smoothed</text>
<text transform="translate(119.6 424.7) scale(1 1.04)" font-size="20.7" fill="#222" text-anchor="start" >1-yr annualized</text>
<text transform="translate(43.3 505.9) scale(1 1.04)" font-size="21" fill="#1a1ab8" text-anchor="end" >1</text>
<text transform="translate(43.0 603.6) scale(1 1.04)" font-size="21" fill="#1a1ab8" text-anchor="end" >2</text>
<text transform="translate(44.5 749.8) scale(1 1.04)" font-size="21" fill="#1a1ab8" text-anchor="end" >3</text>
<text transform="translate(545.5 488.6) scale(1 1.04)" font-size="34" fill="#000" text-anchor="middle" >c</text>
<text transform="translate(582 510.7) scale(1 1.04)" font-size="21.8" fill="#7a6e22" text-anchor="start" >0.8</text>
<text transform="translate(582 607.2) scale(1 1.04)" font-size="21.8" fill="#7a6e22" text-anchor="start" >0.4</text>
<text transform="translate(582 703.6) scale(1 1.04)" font-size="21.8" fill="#7a6e22" text-anchor="start" >0.0</text>
<text transform="translate(652.5 590.4) rotate(90) scale(1 1.04)" font-size="21" fill="#7a6e22" text-anchor="middle" >Denmark Strait overflow</text>
<text transform="translate(627.5 592.3) rotate(90) scale(1 1.04)" font-size="21" fill="#7a6e22" text-anchor="middle" >T_θ (°C)</text>
<line x1="72.8" y1="674.9" x2="114.0" y2="674.9" stroke="#0b0bbf" stroke-width="3"/>
<line x1="72.8" y1="684.5" x2="114.0" y2="684.5" stroke="#7c6814" stroke-width="3"/>
<line x1="72.8" y1="703.2" x2="114.0" y2="703.2" stroke="#c4bce6" stroke-width="1.2"/>
<line x1="72.8" y1="713.4" x2="114.0" y2="713.4" stroke="#a89a60" stroke-width="1.2"/>
<text transform="translate(121.9 686.2) scale(1 1.04)" font-size="19.5" fill="#222" text-anchor="start" >5-yr smoothed</text>
<text transform="translate(121.9 715.8) scale(1 1.04)" font-size="19.5" fill="#222" text-anchor="start" >1-yr annualized</text>
</g>
</svg>
</body></html>
